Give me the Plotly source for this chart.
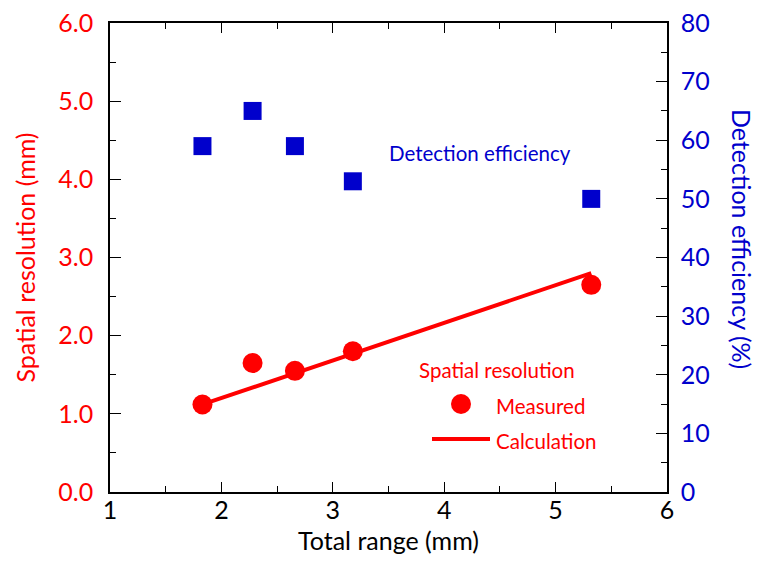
import plotly.graph_objects as go

total_range = [1.83, 2.28, 2.66, 3.18, 5.32]
measured = [1.12, 1.65, 1.55, 1.80, 2.65]
calc_x = [1.83, 5.32]
calc_y = [1.12, 2.80]
efficiency = [59, 65, 59, 53, 50]

RED = "#FF0000"
BLUE = "#0000CC"
FONT = "Lato"

# page body has an 8px margin: figure sits at (8, 8)
W, H = 754, 547
L, T = 102, 15
PW, PH = 557, 469

fig = go.Figure()
fig.add_trace(go.Scatter(x=calc_x, y=calc_y, mode="lines",
                         line=dict(color=RED, width=4), showlegend=False))
fig.add_trace(go.Scatter(x=total_range, y=measured, mode="markers",
                         marker=dict(color=RED, size=20, symbol="circle"), showlegend=False))
fig.add_trace(go.Scatter(x=total_range, y=efficiency, mode="markers", yaxis="y2",
                         marker=dict(color=BLUE, size=18, symbol="square"), showlegend=False))

fig.update_layout(
    width=W, height=H,
    margin=dict(l=L, r=W - L - PW, t=T, b=H - T - PH),
    plot_bgcolor="white", paper_bgcolor="white",
    font=dict(family=FONT),
    xaxis=dict(range=[1, 6], dtick=1, showgrid=False, zeroline=False, automargin=False,
               showline=True, linecolor="black", linewidth=1.5, mirror="ticks",
               ticks="inside", ticklen=10, tickcolor="black", ticklabelstandoff=-5,
               ticklabeloverflow="allow",
               minor=dict(dtick=0.5, ticks="inside", ticklen=6, tickcolor="black"),
               tickfont=dict(size=25, color="black"),
               title=dict(text="Total range (mm)", font=dict(size=25, color="black"), standoff=18)),
    yaxis=dict(range=[0, 6], dtick=1, tickformat=".1f", showgrid=False, zeroline=False,
               automargin=False, ticklabelstandoff=10, ticklabeloverflow="allow",
               showline=True, linecolor="black", linewidth=1.5,
               ticks="inside", ticklen=11, tickcolor="black",
               minor=dict(dtick=0.5, ticks="inside", ticklen=6, tickcolor="black"),
               tickfont=dict(size=25, color=RED),
               title=dict(text="Spatial resolution (mm)", font=dict(size=25, color=RED), standoff=16)),
    yaxis2=dict(range=[0, 80], dtick=10, overlaying="y", side="right", automargin=False,
                showgrid=False, zeroline=False, ticklabelstandoff=7, ticklabeloverflow="allow",
                showline=True, linecolor="black", linewidth=1.5,
                ticks="inside", ticklen=11, tickcolor="black",
                minor=dict(dtick=5, ticks="inside", ticklen=6, tickcolor="black"),
                tickfont=dict(size=25, color=BLUE)),
)

# screen pixel -> paper coordinates (plot area on screen: x 110..667, y 23..492)
def px(x):
    return (x - 110) / PW

def py(y):
    return (492 - y) / PH

def note(text, x, y, size, color, xanchor="left", angle=0):
    fig.add_annotation(text=text, textangle=angle, xref="paper", yref="paper",
                       x=px(x), y=py(y), xanchor=xanchor, yanchor="middle",
                       showarrow=False, font=dict(size=size, color=color))

note("Detection efficiency (%)", 742, 239, 25, BLUE, xanchor="center", angle=90)
note("Detection efficiency", 480, 153, 20.5, BLUE, xanchor="center")
note("Spatial resolution", 417, 370, 20.5, RED)
note("Measured", 494, 406, 20.5, RED)
note("Calculation", 494, 441, 20.5, RED)

fig.add_shape(type="circle", xref="paper", yref="paper", xsizemode="pixel", ysizemode="pixel",
              xanchor=px(461), yanchor=py(404), x0=-10, x1=10, y0=-10, y1=10,
              fillcolor=RED, line=dict(color=RED, width=0))
fig.add_shape(type="line", xref="paper", yref="paper", x0=px(432), x1=px(490),
              y0=py(439), y1=py(439), line=dict(color=RED, width=4))

fig.write_html("out.html")
